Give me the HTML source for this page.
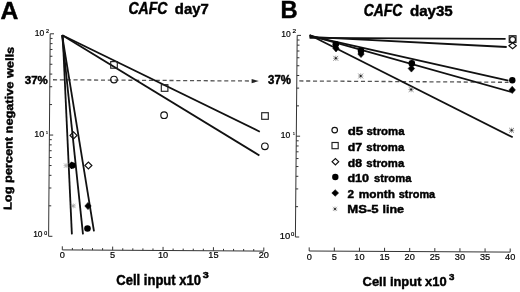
<!DOCTYPE html><html><head><meta charset="utf-8"><style>html,body{margin:0;padding:0;background:#fff;}svg{display:block;filter:grayscale(100%);}</style></head><body><svg width="520" height="292" viewBox="0 0 520 292">
<rect width="520" height="292" fill="#fff"/>
<text x="0.61" y="18.50" font-family="Liberation Sans" font-size="24.09" font-weight="bold" font-style="normal" text-anchor="start" fill="#000" textLength="17.81" lengthAdjust="spacingAndGlyphs" stroke="#000" stroke-width="0.45">A</text>
<text x="128.44" y="13.80" font-family="Liberation Sans" font-size="15.72" font-weight="bold" font-style="italic" text-anchor="start" fill="#000" textLength="38.97" lengthAdjust="spacingAndGlyphs" stroke="#000" stroke-width="0.45">CAFC</text>
<text x="174.81" y="13.80" font-family="Liberation Sans" font-size="15.14" font-weight="bold" font-style="normal" text-anchor="start" fill="#000" textLength="33.92" lengthAdjust="spacingAndGlyphs" stroke="#000" stroke-width="0.45">day7</text>
<text x="-0.63" y="0.00" font-family="Liberation Sans" font-size="11.28" font-weight="bold" font-style="normal" text-anchor="start" fill="#000" textLength="163.03" lengthAdjust="spacingAndGlyphs" transform="translate(11.5,209.3) rotate(-89.2)" stroke="#000" stroke-width="0.45">Log percent negative wells</text>
<line x1="50.20" y1="33.80" x2="48.60" y2="236.30" stroke="#333" stroke-width="1.0" />
<line x1="48.60" y1="236.30" x2="52.40" y2="236.30" stroke="#333" stroke-width="1.0" />
<line x1="48.84" y1="205.82" x2="51.24" y2="205.82" stroke="#333" stroke-width="1.0" />
<line x1="48.98" y1="187.99" x2="51.38" y2="187.99" stroke="#333" stroke-width="1.0" />
<line x1="49.08" y1="175.34" x2="51.48" y2="175.34" stroke="#333" stroke-width="1.0" />
<line x1="49.16" y1="165.53" x2="51.56" y2="165.53" stroke="#333" stroke-width="1.0" />
<line x1="49.22" y1="157.51" x2="51.62" y2="157.51" stroke="#333" stroke-width="1.0" />
<line x1="49.28" y1="150.73" x2="51.68" y2="150.73" stroke="#333" stroke-width="1.0" />
<line x1="49.32" y1="144.86" x2="51.72" y2="144.86" stroke="#333" stroke-width="1.0" />
<line x1="49.36" y1="139.68" x2="51.76" y2="139.68" stroke="#333" stroke-width="1.0" />
<line x1="49.40" y1="135.05" x2="53.20" y2="135.05" stroke="#333" stroke-width="1.0" />
<line x1="49.64" y1="104.57" x2="52.04" y2="104.57" stroke="#333" stroke-width="1.0" />
<line x1="49.78" y1="86.74" x2="52.18" y2="86.74" stroke="#333" stroke-width="1.0" />
<line x1="49.88" y1="74.09" x2="52.28" y2="74.09" stroke="#333" stroke-width="1.0" />
<line x1="49.96" y1="64.28" x2="52.36" y2="64.28" stroke="#333" stroke-width="1.0" />
<line x1="50.02" y1="56.26" x2="52.42" y2="56.26" stroke="#333" stroke-width="1.0" />
<line x1="50.08" y1="49.48" x2="52.48" y2="49.48" stroke="#333" stroke-width="1.0" />
<line x1="50.12" y1="43.61" x2="52.52" y2="43.61" stroke="#333" stroke-width="1.0" />
<line x1="50.16" y1="38.43" x2="52.56" y2="38.43" stroke="#333" stroke-width="1.0" />
<line x1="50.20" y1="33.80" x2="54.00" y2="33.80" stroke="#333" stroke-width="1.0" />
<text x="34.65" y="35.80" font-family="Liberation Sans" font-size="9.74" font-weight="normal" font-style="normal" text-anchor="start" fill="#000" textLength="9.48" lengthAdjust="spacingAndGlyphs" stroke="#000" stroke-width="0.2">10</text>
<text x="46.13" y="32.60" font-family="Liberation Sans" font-size="5.44" font-weight="normal" font-style="normal" text-anchor="start" fill="#000" textLength="3.05" lengthAdjust="spacingAndGlyphs" stroke="#000" stroke-width="0.2">2</text>
<text x="34.22" y="136.80" font-family="Liberation Sans" font-size="9.46" font-weight="normal" font-style="normal" text-anchor="start" fill="#000" textLength="9.93" lengthAdjust="spacingAndGlyphs" stroke="#000" stroke-width="0.2">10</text>
<text x="45.94" y="133.70" font-family="Liberation Sans" font-size="3.92" font-weight="normal" font-style="normal" text-anchor="start" fill="#000" textLength="1.94" lengthAdjust="spacingAndGlyphs" stroke="#000" stroke-width="0.2">1</text>
<text x="33.16" y="237.40" font-family="Liberation Sans" font-size="9.03" font-weight="normal" font-style="normal" text-anchor="start" fill="#000" textLength="9.37" lengthAdjust="spacingAndGlyphs" stroke="#000" stroke-width="0.2">10</text>
<text x="44.20" y="234.60" font-family="Liberation Sans" font-size="4.44" font-weight="normal" font-style="normal" text-anchor="start" fill="#000" textLength="2.91" lengthAdjust="spacingAndGlyphs" stroke="#000" stroke-width="0.2">0</text>
<text x="24.76" y="84.10" font-family="Liberation Sans" font-size="11.0" font-weight="bold" font-style="normal" text-anchor="start" fill="#000" textLength="23.02" lengthAdjust="spacingAndGlyphs" stroke="#000" stroke-width="0.45">37%</text>
<line x1="53.0" y1="79.75" x2="250.0" y2="81.0" stroke="#555" stroke-width="1.3" stroke-dasharray="4.1 2.75"/>
<path d="M251.6 78.9 L258.8 81.1 L251.6 83.2 Z" fill="#222"/>
<line x1="62.30" y1="249.90" x2="263.80" y2="251.10" stroke="#333" stroke-width="1.0" />
<line x1="62.30" y1="249.90" x2="62.30" y2="246.30" stroke="#333" stroke-width="1.0" />
<line x1="72.38" y1="249.96" x2="72.38" y2="247.96" stroke="#333" stroke-width="1.0" />
<line x1="82.45" y1="250.02" x2="82.45" y2="248.02" stroke="#333" stroke-width="1.0" />
<line x1="92.52" y1="250.08" x2="92.52" y2="248.08" stroke="#333" stroke-width="1.0" />
<line x1="102.60" y1="250.14" x2="102.60" y2="248.14" stroke="#333" stroke-width="1.0" />
<line x1="112.67" y1="250.20" x2="112.67" y2="246.60" stroke="#333" stroke-width="1.0" />
<line x1="122.75" y1="250.26" x2="122.75" y2="248.26" stroke="#333" stroke-width="1.0" />
<line x1="132.82" y1="250.32" x2="132.82" y2="248.32" stroke="#333" stroke-width="1.0" />
<line x1="142.90" y1="250.38" x2="142.90" y2="248.38" stroke="#333" stroke-width="1.0" />
<line x1="152.97" y1="250.44" x2="152.97" y2="248.44" stroke="#333" stroke-width="1.0" />
<line x1="163.05" y1="250.50" x2="163.05" y2="246.90" stroke="#333" stroke-width="1.0" />
<line x1="173.12" y1="250.56" x2="173.12" y2="248.56" stroke="#333" stroke-width="1.0" />
<line x1="183.20" y1="250.62" x2="183.20" y2="248.62" stroke="#333" stroke-width="1.0" />
<line x1="193.27" y1="250.68" x2="193.27" y2="248.68" stroke="#333" stroke-width="1.0" />
<line x1="203.35" y1="250.74" x2="203.35" y2="248.74" stroke="#333" stroke-width="1.0" />
<line x1="213.43" y1="250.80" x2="213.43" y2="247.20" stroke="#333" stroke-width="1.0" />
<line x1="223.50" y1="250.86" x2="223.50" y2="248.86" stroke="#333" stroke-width="1.0" />
<line x1="233.57" y1="250.92" x2="233.57" y2="248.92" stroke="#333" stroke-width="1.0" />
<line x1="243.65" y1="250.98" x2="243.65" y2="248.98" stroke="#333" stroke-width="1.0" />
<line x1="253.72" y1="251.04" x2="253.72" y2="249.04" stroke="#333" stroke-width="1.0" />
<line x1="263.80" y1="251.10" x2="263.80" y2="247.50" stroke="#333" stroke-width="1.0" />
<text x="62.30" y="258.40" font-family="Liberation Sans" font-size="9.2" font-weight="normal" font-style="normal" text-anchor="middle" fill="#000" stroke="#000" stroke-width="0.2">0</text>
<text x="112.67" y="258.40" font-family="Liberation Sans" font-size="9.2" font-weight="normal" font-style="normal" text-anchor="middle" fill="#000" stroke="#000" stroke-width="0.2">5</text>
<text x="163.05" y="258.40" font-family="Liberation Sans" font-size="9.2" font-weight="normal" font-style="normal" text-anchor="middle" fill="#000" stroke="#000" stroke-width="0.2">10</text>
<text x="213.43" y="258.40" font-family="Liberation Sans" font-size="9.2" font-weight="normal" font-style="normal" text-anchor="middle" fill="#000" stroke="#000" stroke-width="0.2">15</text>
<text x="263.80" y="258.40" font-family="Liberation Sans" font-size="9.2" font-weight="normal" font-style="normal" text-anchor="middle" fill="#000" stroke="#000" stroke-width="0.2">20</text>
<text x="116.29" y="284.70" font-family="Liberation Sans" font-size="13.76" font-weight="bold" font-style="normal" text-anchor="start" fill="#000" textLength="84.72" lengthAdjust="spacingAndGlyphs" stroke="#000" stroke-width="0.45">Cell input x10</text>
<text x="202.88" y="277.90" font-family="Liberation Sans" font-size="8.13" font-weight="bold" font-style="normal" text-anchor="start" fill="#000" textLength="5.99" lengthAdjust="spacingAndGlyphs" stroke="#000" stroke-width="0.45">3</text>
<line x1="62.30" y1="35.20" x2="259.80" y2="131.70" stroke="#111" stroke-width="1.8" />
<line x1="62.30" y1="35.20" x2="259.40" y2="155.40" stroke="#111" stroke-width="1.8" />
<line x1="62.70" y1="35.20" x2="71.90" y2="234.40" stroke="#111" stroke-width="1.8" />
<line x1="62.10" y1="35.20" x2="83.00" y2="234.40" stroke="#111" stroke-width="1.8" />
<line x1="62.10" y1="35.20" x2="94.00" y2="231.30" stroke="#111" stroke-width="1.8" />
<rect x="110.70" y="61.60" width="6.6" height="6.6" fill="none" stroke="#222" stroke-width="1.15"/>
<circle cx="114.00" cy="79.60" r="3.3" fill="none" stroke="#111" stroke-width="1.15"/>
<rect x="161.30" y="84.70" width="6.6" height="6.6" fill="none" stroke="#222" stroke-width="1.15"/>
<circle cx="164.10" cy="115.20" r="3.3" fill="none" stroke="#111" stroke-width="1.15"/>
<rect x="261.70" y="112.70" width="6.6" height="6.6" fill="none" stroke="#222" stroke-width="1.15"/>
<circle cx="264.90" cy="146.30" r="3.3" fill="none" stroke="#111" stroke-width="1.15"/>
<path d="M70.00 135.40L73.50 131.90L77.00 135.40L73.50 138.90Z" fill="none" stroke="#111" stroke-width="1.15" stroke-linejoin="miter"/>
<path d="M84.90 165.50L88.40 162.00L91.90 165.50L88.40 169.00Z" fill="none" stroke="#111" stroke-width="1.15" stroke-linejoin="miter"/>
<path d="M63.62 165.60L68.58 165.60M66.10 163.12L66.10 168.08" stroke="#999" stroke-width="0.6" fill="none"/>
<path d="M63.91 163.41L68.29 167.79M68.29 163.41L63.91 167.79" stroke="#888" stroke-width="0.6" fill="none"/>
<circle cx="66.10" cy="165.60" r="1.0" fill="#bbb"/>
<path d="M68.40 165.40L71.60 161.80L74.80 165.40L71.60 169.00Z" fill="#000" stroke="#000" stroke-width="0.6" stroke-linejoin="miter"/>
<circle cx="72.50" cy="165.40" r="3.1" fill="#000"/>
<path d="M70.82 205.90L75.78 205.90M73.30 203.42L73.30 208.38" stroke="#999" stroke-width="0.6" fill="none"/>
<path d="M71.11 203.71L75.49 208.09M75.49 203.71L71.11 208.09" stroke="#888" stroke-width="0.6" fill="none"/>
<circle cx="73.30" cy="205.90" r="1.0" fill="#aaa"/>
<path d="M84.80 206.00L88.00 202.40L91.20 206.00L88.00 209.60Z" fill="#000" stroke="#000" stroke-width="0.6" stroke-linejoin="miter"/>
<circle cx="87.50" cy="228.50" r="3.3" fill="#000"/>
<text x="280.44" y="18.00" font-family="Liberation Sans" font-size="24.82" font-weight="bold" font-style="normal" text-anchor="start" fill="#000" textLength="17.11" lengthAdjust="spacingAndGlyphs" stroke="#000" stroke-width="0.45">B</text>
<text x="363.74" y="16.00" font-family="Liberation Sans" font-size="15.72" font-weight="bold" font-style="italic" text-anchor="start" fill="#000" textLength="38.67" lengthAdjust="spacingAndGlyphs" stroke="#000" stroke-width="0.45">CAFC</text>
<text x="409.90" y="15.90" font-family="Liberation Sans" font-size="15.0" font-weight="bold" font-style="normal" text-anchor="start" fill="#000" textLength="42.90" lengthAdjust="spacingAndGlyphs" stroke="#000" stroke-width="0.45">day35</text>
<line x1="297.20" y1="35.40" x2="295.40" y2="237.00" stroke="#333" stroke-width="1.0" />
<line x1="295.40" y1="237.00" x2="299.20" y2="237.00" stroke="#333" stroke-width="1.0" />
<line x1="295.67" y1="206.66" x2="298.07" y2="206.66" stroke="#333" stroke-width="1.0" />
<line x1="295.83" y1="188.91" x2="298.23" y2="188.91" stroke="#333" stroke-width="1.0" />
<line x1="295.94" y1="176.31" x2="298.34" y2="176.31" stroke="#333" stroke-width="1.0" />
<line x1="296.03" y1="166.54" x2="298.43" y2="166.54" stroke="#333" stroke-width="1.0" />
<line x1="296.10" y1="158.56" x2="298.50" y2="158.56" stroke="#333" stroke-width="1.0" />
<line x1="296.16" y1="151.81" x2="298.56" y2="151.81" stroke="#333" stroke-width="1.0" />
<line x1="296.21" y1="145.97" x2="298.61" y2="145.97" stroke="#333" stroke-width="1.0" />
<line x1="296.26" y1="140.81" x2="298.66" y2="140.81" stroke="#333" stroke-width="1.0" />
<line x1="296.30" y1="136.20" x2="300.10" y2="136.20" stroke="#333" stroke-width="1.0" />
<line x1="296.57" y1="105.86" x2="298.97" y2="105.86" stroke="#333" stroke-width="1.0" />
<line x1="296.73" y1="88.11" x2="299.13" y2="88.11" stroke="#333" stroke-width="1.0" />
<line x1="296.84" y1="75.51" x2="299.24" y2="75.51" stroke="#333" stroke-width="1.0" />
<line x1="296.93" y1="65.74" x2="299.33" y2="65.74" stroke="#333" stroke-width="1.0" />
<line x1="297.00" y1="57.76" x2="299.40" y2="57.76" stroke="#333" stroke-width="1.0" />
<line x1="297.06" y1="51.01" x2="299.46" y2="51.01" stroke="#333" stroke-width="1.0" />
<line x1="297.11" y1="45.17" x2="299.51" y2="45.17" stroke="#333" stroke-width="1.0" />
<line x1="297.16" y1="40.01" x2="299.56" y2="40.01" stroke="#333" stroke-width="1.0" />
<line x1="297.20" y1="35.40" x2="301.00" y2="35.40" stroke="#333" stroke-width="1.0" />
<text x="281.25" y="37.00" font-family="Liberation Sans" font-size="9.46" font-weight="normal" font-style="normal" text-anchor="start" fill="#000" textLength="9.48" lengthAdjust="spacingAndGlyphs" stroke="#000" stroke-width="0.2">10</text>
<text x="292.57" y="33.40" font-family="Liberation Sans" font-size="5.44" font-weight="normal" font-style="normal" text-anchor="start" fill="#000" textLength="3.66" lengthAdjust="spacingAndGlyphs" stroke="#000" stroke-width="0.2">2</text>
<text x="280.75" y="137.60" font-family="Liberation Sans" font-size="8.31" font-weight="normal" font-style="normal" text-anchor="start" fill="#000" textLength="9.48" lengthAdjust="spacingAndGlyphs" stroke="#000" stroke-width="0.2">10</text>
<text x="292.95" y="134.80" font-family="Liberation Sans" font-size="3.78" font-weight="normal" font-style="normal" text-anchor="start" fill="#000" textLength="1.81" lengthAdjust="spacingAndGlyphs" stroke="#000" stroke-width="0.2">1</text>
<text x="279.78" y="238.80" font-family="Liberation Sans" font-size="8.45" font-weight="normal" font-style="normal" text-anchor="start" fill="#000" textLength="10.49" lengthAdjust="spacingAndGlyphs" stroke="#000" stroke-width="0.2">10</text>
<text x="291.07" y="236.40" font-family="Liberation Sans" font-size="5.01" font-weight="normal" font-style="normal" text-anchor="start" fill="#000" textLength="3.26" lengthAdjust="spacingAndGlyphs" stroke="#000" stroke-width="0.2">0</text>
<text x="268.06" y="84.00" font-family="Liberation Sans" font-size="12.0" font-weight="bold" font-style="normal" text-anchor="start" fill="#000" textLength="22.92" lengthAdjust="spacingAndGlyphs" stroke="#000" stroke-width="0.45">37%</text>
<line x1="299.3" y1="80.95" x2="508.5" y2="82.3" stroke="#555" stroke-width="1.3" stroke-dasharray="4.1 2.75"/>
<line x1="309.20" y1="251.00" x2="510.20" y2="252.10" stroke="#333" stroke-width="1.0" />
<line x1="309.20" y1="251.00" x2="309.20" y2="247.40" stroke="#333" stroke-width="1.0" />
<line x1="334.32" y1="251.14" x2="334.32" y2="247.54" stroke="#333" stroke-width="1.0" />
<line x1="359.45" y1="251.28" x2="359.45" y2="247.68" stroke="#333" stroke-width="1.0" />
<line x1="384.57" y1="251.41" x2="384.57" y2="247.81" stroke="#333" stroke-width="1.0" />
<line x1="409.70" y1="251.55" x2="409.70" y2="247.95" stroke="#333" stroke-width="1.0" />
<line x1="434.82" y1="251.69" x2="434.82" y2="248.09" stroke="#333" stroke-width="1.0" />
<line x1="459.95" y1="251.82" x2="459.95" y2="248.22" stroke="#333" stroke-width="1.0" />
<line x1="485.07" y1="251.96" x2="485.07" y2="248.36" stroke="#333" stroke-width="1.0" />
<line x1="510.20" y1="252.10" x2="510.20" y2="248.50" stroke="#333" stroke-width="1.0" />
<text x="309.20" y="259.60" font-family="Liberation Sans" font-size="9.2" font-weight="normal" font-style="normal" text-anchor="middle" fill="#000" stroke="#000" stroke-width="0.2">0</text>
<text x="334.32" y="259.60" font-family="Liberation Sans" font-size="9.2" font-weight="normal" font-style="normal" text-anchor="middle" fill="#000" stroke="#000" stroke-width="0.2">5</text>
<text x="359.45" y="259.60" font-family="Liberation Sans" font-size="9.2" font-weight="normal" font-style="normal" text-anchor="middle" fill="#000" stroke="#000" stroke-width="0.2">10</text>
<text x="384.57" y="259.60" font-family="Liberation Sans" font-size="9.2" font-weight="normal" font-style="normal" text-anchor="middle" fill="#000" stroke="#000" stroke-width="0.2">15</text>
<text x="409.70" y="259.60" font-family="Liberation Sans" font-size="9.2" font-weight="normal" font-style="normal" text-anchor="middle" fill="#000" stroke="#000" stroke-width="0.2">20</text>
<text x="434.82" y="259.60" font-family="Liberation Sans" font-size="9.2" font-weight="normal" font-style="normal" text-anchor="middle" fill="#000" stroke="#000" stroke-width="0.2">25</text>
<text x="459.95" y="259.60" font-family="Liberation Sans" font-size="9.2" font-weight="normal" font-style="normal" text-anchor="middle" fill="#000" stroke="#000" stroke-width="0.2">30</text>
<text x="485.07" y="259.60" font-family="Liberation Sans" font-size="9.2" font-weight="normal" font-style="normal" text-anchor="middle" fill="#000" stroke="#000" stroke-width="0.2">35</text>
<text x="510.20" y="259.60" font-family="Liberation Sans" font-size="9.2" font-weight="normal" font-style="normal" text-anchor="middle" fill="#000" stroke="#000" stroke-width="0.2">40</text>
<text x="362.60" y="285.90" font-family="Liberation Sans" font-size="13.34" font-weight="bold" font-style="normal" text-anchor="start" fill="#000" textLength="84.02" lengthAdjust="spacingAndGlyphs" stroke="#000" stroke-width="0.45">Cell input x10</text>
<text x="448.90" y="279.80" font-family="Liberation Sans" font-size="8.7" font-weight="bold" font-style="normal" text-anchor="start" fill="#000" textLength="5.43" lengthAdjust="spacingAndGlyphs" stroke="#000" stroke-width="0.45">3</text>
<line x1="309.60" y1="37.80" x2="505.60" y2="38.90" stroke="#111" stroke-width="1.8" />
<line x1="309.60" y1="36.90" x2="506.70" y2="47.00" stroke="#111" stroke-width="1.8" />
<line x1="309.60" y1="35.90" x2="508.40" y2="80.60" stroke="#111" stroke-width="1.8" />
<line x1="309.60" y1="35.40" x2="511.40" y2="92.00" stroke="#111" stroke-width="1.8" />
<line x1="309.60" y1="35.00" x2="512.70" y2="137.30" stroke="#111" stroke-width="1.8" />
<circle cx="335.80" cy="44.20" r="3.3" fill="#000"/>
<path d="M332.80 48.30L336.00 44.70L339.20 48.30L336.00 51.90Z" fill="#000" stroke="#000" stroke-width="0.6" stroke-linejoin="miter"/>
<path d="M333.08 58.30L338.52 58.30M335.80 55.58L335.80 61.02" stroke="#999" stroke-width="0.8" fill="none"/>
<path d="M333.40 55.90L338.20 60.70M338.20 55.90L333.40 60.70" stroke="#666" stroke-width="0.8" fill="none"/>
<circle cx="335.80" cy="58.30" r="1.0" fill="#222"/>
<circle cx="361.00" cy="50.70" r="3.3" fill="#000"/>
<path d="M357.80 54.00L361.00 50.40L364.20 54.00L361.00 57.60Z" fill="#000" stroke="#000" stroke-width="0.6" stroke-linejoin="miter"/>
<path d="M357.98 76.00L363.42 76.00M360.70 73.28L360.70 78.72" stroke="#999" stroke-width="0.8" fill="none"/>
<path d="M358.30 73.60L363.10 78.40M363.10 73.60L358.30 78.40" stroke="#666" stroke-width="0.8" fill="none"/>
<circle cx="360.70" cy="76.00" r="1.0" fill="#222"/>
<circle cx="411.80" cy="63.40" r="3.3" fill="#000"/>
<path d="M408.20 68.50L411.40 64.90L414.60 68.50L411.40 72.10Z" fill="#000" stroke="#000" stroke-width="0.6" stroke-linejoin="miter"/>
<path d="M408.38 89.50L413.82 89.50M411.10 86.78L411.10 92.22" stroke="#999" stroke-width="0.8" fill="none"/>
<path d="M408.70 87.10L413.50 91.90M413.50 87.10L408.70 91.90" stroke="#666" stroke-width="0.8" fill="none"/>
<circle cx="411.10" cy="89.50" r="1.0" fill="#222"/>
<rect x="509.20" y="35.70" width="6.8" height="6.8" fill="none" stroke="#222" stroke-width="1.15"/>
<circle cx="512.60" cy="39.60" r="2.9" fill="none" stroke="#111" stroke-width="1.15"/>
<path d="M508.90 45.70L512.60 42.70L516.30 45.70L512.60 48.70Z" fill="none" stroke="#111" stroke-width="1.15" stroke-linejoin="miter"/>
<circle cx="512.30" cy="80.30" r="3.2" fill="#000"/>
<path d="M509.00 89.90L512.20 86.30L515.40 89.90L512.20 93.50Z" fill="#000" stroke="#000" stroke-width="0.6" stroke-linejoin="miter"/>
<path d="M508.88 130.30L514.32 130.30M511.60 127.58L511.60 133.02" stroke="#999" stroke-width="0.8" fill="none"/>
<path d="M509.20 127.90L514.00 132.70M514.00 127.90L509.20 132.70" stroke="#666" stroke-width="0.8" fill="none"/>
<circle cx="511.60" cy="130.30" r="1.0" fill="#222"/>
<text x="347.78" y="135.20" font-family="Liberation Sans" font-size="11.8" font-weight="bold" font-style="normal" text-anchor="start" fill="#000" textLength="15.46" lengthAdjust="spacingAndGlyphs" stroke="#000" stroke-width="0.45">d5</text>
<text x="366.53" y="135.20" font-family="Liberation Sans" font-size="11.8" font-weight="bold" font-style="normal" text-anchor="start" fill="#000" textLength="37.99" lengthAdjust="spacingAndGlyphs" stroke="#000" stroke-width="0.45">stroma</text>
<text x="347.72" y="150.80" font-family="Liberation Sans" font-size="11.8" font-weight="bold" font-style="normal" text-anchor="start" fill="#000" textLength="14.40" lengthAdjust="spacingAndGlyphs" stroke="#000" stroke-width="0.45">d7</text>
<text x="366.33" y="150.80" font-family="Liberation Sans" font-size="11.8" font-weight="bold" font-style="normal" text-anchor="start" fill="#000" textLength="37.88" lengthAdjust="spacingAndGlyphs" stroke="#000" stroke-width="0.45">stroma</text>
<text x="347.73" y="166.50" font-family="Liberation Sans" font-size="11.8" font-weight="bold" font-style="normal" text-anchor="start" fill="#000" textLength="14.23" lengthAdjust="spacingAndGlyphs" stroke="#000" stroke-width="0.45">d8</text>
<text x="366.33" y="166.50" font-family="Liberation Sans" font-size="11.8" font-weight="bold" font-style="normal" text-anchor="start" fill="#000" textLength="37.88" lengthAdjust="spacingAndGlyphs" stroke="#000" stroke-width="0.45">stroma</text>
<text x="347.41" y="182.10" font-family="Liberation Sans" font-size="11.8" font-weight="bold" font-style="normal" text-anchor="start" fill="#000" textLength="21.68" lengthAdjust="spacingAndGlyphs" stroke="#000" stroke-width="0.45">d10</text>
<text x="374.03" y="182.10" font-family="Liberation Sans" font-size="11.8" font-weight="bold" font-style="normal" text-anchor="start" fill="#000" textLength="37.38" lengthAdjust="spacingAndGlyphs" stroke="#000" stroke-width="0.45">stroma</text>
<text x="347.51" y="197.80" font-family="Liberation Sans" font-size="11.8" font-weight="bold" font-style="normal" text-anchor="start" fill="#000" textLength="6.53" lengthAdjust="spacingAndGlyphs" stroke="#000" stroke-width="0.45">2</text>
<text x="358.74" y="197.80" font-family="Liberation Sans" font-size="11.8" font-weight="bold" font-style="normal" text-anchor="start" fill="#000" textLength="36.16" lengthAdjust="spacingAndGlyphs" stroke="#000" stroke-width="0.45">month</text>
<text x="398.74" y="197.80" font-family="Liberation Sans" font-size="11.8" font-weight="bold" font-style="normal" text-anchor="start" fill="#000" textLength="36.47" lengthAdjust="spacingAndGlyphs" stroke="#000" stroke-width="0.45">stroma</text>
<text x="347.25" y="213.40" font-family="Liberation Sans" font-size="11.8" font-weight="bold" font-style="normal" text-anchor="start" fill="#000" textLength="31.30" lengthAdjust="spacingAndGlyphs" stroke="#000" stroke-width="0.45">MS-5</text>
<text x="382.45" y="213.40" font-family="Liberation Sans" font-size="11.8" font-weight="bold" font-style="normal" text-anchor="start" fill="#000" textLength="21.55" lengthAdjust="spacingAndGlyphs" stroke="#000" stroke-width="0.45">line</text>
<circle cx="334.70" cy="130.10" r="2.8" fill="none" stroke="#111" stroke-width="1.15"/>
<rect x="332.00" y="142.50" width="6.2" height="6.2" fill="none" stroke="#222" stroke-width="1.15"/>
<path d="M332.10 161.70L335.40 158.50L338.70 161.70L335.40 164.90Z" fill="none" stroke="#111" stroke-width="1.15" stroke-linejoin="miter"/>
<circle cx="335.30" cy="177.00" r="3.2" fill="#000"/>
<path d="M331.80 193.00L335.20 189.70L338.60 193.00L335.20 196.30Z" fill="#000" stroke="#000" stroke-width="0.6" stroke-linejoin="miter"/>
<path d="M332.60 208.90L337.40 208.90M335.00 206.50L335.00 211.30" stroke="#999" stroke-width="0.7" fill="none"/>
<path d="M332.88 206.78L337.12 211.02M337.12 206.78L332.88 211.02" stroke="#888" stroke-width="0.7" fill="none"/>
<circle cx="335.00" cy="208.90" r="1.0" fill="#222"/>
</svg></body></html>
